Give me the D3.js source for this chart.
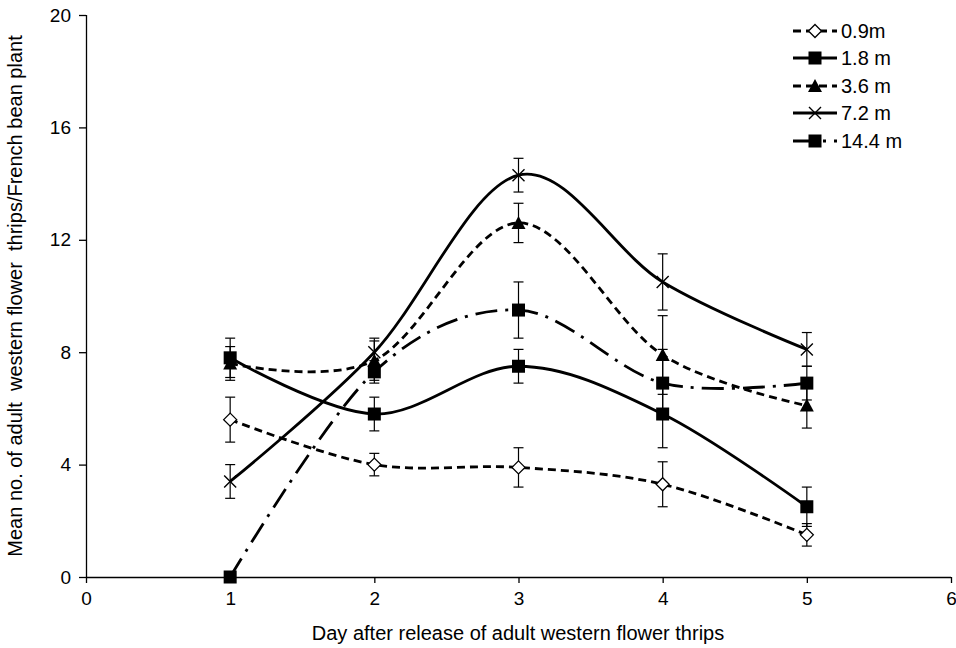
<!DOCTYPE html>
<html>
<head>
<meta charset="utf-8">
<script src="https://cdn.jsdelivr.net/npm/d3@7"></script>
<style>
  body { margin: 0; background: #fff; }
  svg text { font-family: "Liberation Sans", Arial, sans-serif; fill: #000; white-space: pre; }
</style>
</head>
<body>
<div id="chart"></div>
<script>
// data
var days = [1, 2, 3, 4, 5];
var seriesNames = ["0.9m", "1.8 m", "3.6 m", "7.2 m", "14.4 m"];
var m09 = [5.6, 4.0, 3.9, 3.3, 1.5];
var e09 = [0.8, 0.4, 0.7, 0.8, 0.4];
var m18 = [7.8, 5.8, 7.5, 5.8, 2.5];
var e18 = [0.7, 0.6, 0.6, 1.2, 0.7];
var m36 = [7.6, 7.7, 12.6, 7.9, 6.1];
var e36 = [0.6, 0.7, 0.7, 1.4, 0.8];
var m72 = [3.4, 8.0, 14.3, 10.5, 8.1];
var e72 = [0.6, 0.5, 0.6, 1.0, 0.6];
var m144 = [0, 7.3, 9.5, 6.9, 6.9];
var e144 = [0, 0.4, 1.0, 1.2, 0.6];
var xTicks = [0, 1, 2, 3, 4, 5, 6];
var yTicks = [0, 4, 8, 12, 16, 20];

var width = 956, height = 648;

var svg = d3.select("#chart")
    .append("svg")
    .attr("width", width)
    .attr("height", height);

var x = d3.scaleLinear().domain([0, 6]).range([86, 951]);
var y = d3.scaleLinear().domain([0, 20]).range([577, 15]);

// axes
var yAxis = svg.append("g")
    .attr("transform", "translate(86,0)")
    .call(d3.axisLeft(y).tickValues(yTicks).tickSize(7).tickPadding(8).tickFormat(d3.format("d")));
var xAxis = svg.append("g")
    .attr("transform", "translate(0,577)")
    .call(d3.axisBottom(x).tickValues(xTicks).tickSize(6).tickPadding(9).tickFormat(d3.format("d")));

[xAxis, yAxis].forEach(function(a) {
    a.select(".domain").attr("stroke", "#000").attr("stroke-width", 1.3);
    a.selectAll(".tick line").attr("stroke", "#000").attr("stroke-width", 1.3);
    a.selectAll(".tick text").style("font-size", "19px").attr("fill", "#000");
});
xAxis.select(".domain").attr("d", "M86,0.5H951");
yAxis.select(".domain").attr("d", "M0.5,577V15");

svg.append("text")
    .attr("x", 518)
    .attr("y", 640)
    .attr("text-anchor", "middle")
    .style("font-size", "20px")
    .text("Day after release of adult western flower thrips");

svg.append("text")
    .attr("transform", "translate(22,296) rotate(-90)")
    .attr("text-anchor", "middle")
    .style("font-size", "20px")
    .text("Mean no. of adult  western flower  thrips/French bean plant");

var series = [
    {name: seriesNames[0], mean: m09, err: e09, dash: "8,5", marker: "diamond"},
    {name: seriesNames[1], mean: m18, err: e18, dash: null, marker: "square"},
    {name: seriesNames[2], mean: m36, err: e36, dash: "8,5", marker: "triangle"},
    {name: seriesNames[3], mean: m72, err: e72, dash: null, marker: "cross"},
    {name: seriesNames[4], mean: m144, err: e144, dash: "22,8,3,8", marker: "square"}
];

var line = d3.line()
    .x(function(d) { return x(d.day); })
    .y(function(d) { return y(d.v); })
    .curve(d3.curveCardinal.tension(0));

function drawMarker(g, type, cx, cy) {
    if (type === "diamond") {
        g.append("path")
            .attr("d", "M" + cx + "," + (cy - 6.5) + "L" + (cx + 6.5) + "," + cy + "L" + cx + "," + (cy + 6.5) + "L" + (cx - 6.5) + "," + cy + "Z")
            .attr("fill", "#fff").attr("stroke", "#000").attr("stroke-width", 1.3);
    } else if (type === "square") {
        g.append("rect")
            .attr("x", cx - 6.5).attr("y", cy - 6.5)
            .attr("width", 13).attr("height", 13)
            .attr("fill", "#000");
    } else if (type === "triangle") {
        g.append("path")
            .attr("d", "M" + cx + "," + (cy - 7) + "L" + (cx + 7) + "," + (cy + 6) + "L" + (cx - 7) + "," + (cy + 6) + "Z")
            .attr("fill", "#000");
    } else if (type === "cross") {
        g.append("path")
            .attr("d", "M" + (cx - 6) + "," + (cy - 6) + "L" + (cx + 6) + "," + (cy + 6) + "M" + (cx + 6) + "," + (cy - 6) + "L" + (cx - 6) + "," + (cy + 6))
            .attr("stroke", "#000").attr("stroke-width", 1.4).attr("fill", "none");
    }
}

series.forEach(function(s) {
    var pts = days.map(function(d, i) { return {day: d, v: s.mean[i], e: s.err[i]}; });
    var g = svg.append("g");

    // error bars
    pts.forEach(function(p) {
        if (p.e <= 0) return;
        var cx = x(p.day);
        g.append("line")
            .attr("x1", cx).attr("x2", cx)
            .attr("y1", y(p.v - p.e)).attr("y2", y(p.v + p.e))
            .attr("stroke", "#000").attr("stroke-width", 1.2);
        [p.v - p.e, p.v + p.e].forEach(function(v) {
            g.append("line")
                .attr("x1", cx - 5).attr("x2", cx + 5)
                .attr("y1", y(v)).attr("y2", y(v))
                .attr("stroke", "#000").attr("stroke-width", 1.2);
        });
    });

    g.append("path")
        .datum(pts)
        .attr("d", line)
        .attr("fill", "none")
        .attr("stroke", "#000")
        .attr("stroke-width", 2.8)
        .attr("stroke-dasharray", s.dash);

    pts.forEach(function(p) {
        drawMarker(g, s.marker, x(p.day), y(p.v));
    });
});

// legend
var legend = svg.append("g");
var legendY = [31, 58, 86, 113, 141];
series.forEach(function(s, i) {
    var ly = legendY[i];
    legend.append("line")
        .attr("x1", 793).attr("x2", 837)
        .attr("y1", ly).attr("y2", ly)
        .attr("stroke", "#000")
        .attr("stroke-width", 2.8)
        .attr("stroke-dasharray", s.dash);
    drawMarker(legend, s.marker, 815, ly);
    legend.append("text")
        .attr("x", 841)
        .attr("y", ly + 7)
        .style("font-size", "20px")
        .text(s.name);
});
</script>
</body>
</html>
